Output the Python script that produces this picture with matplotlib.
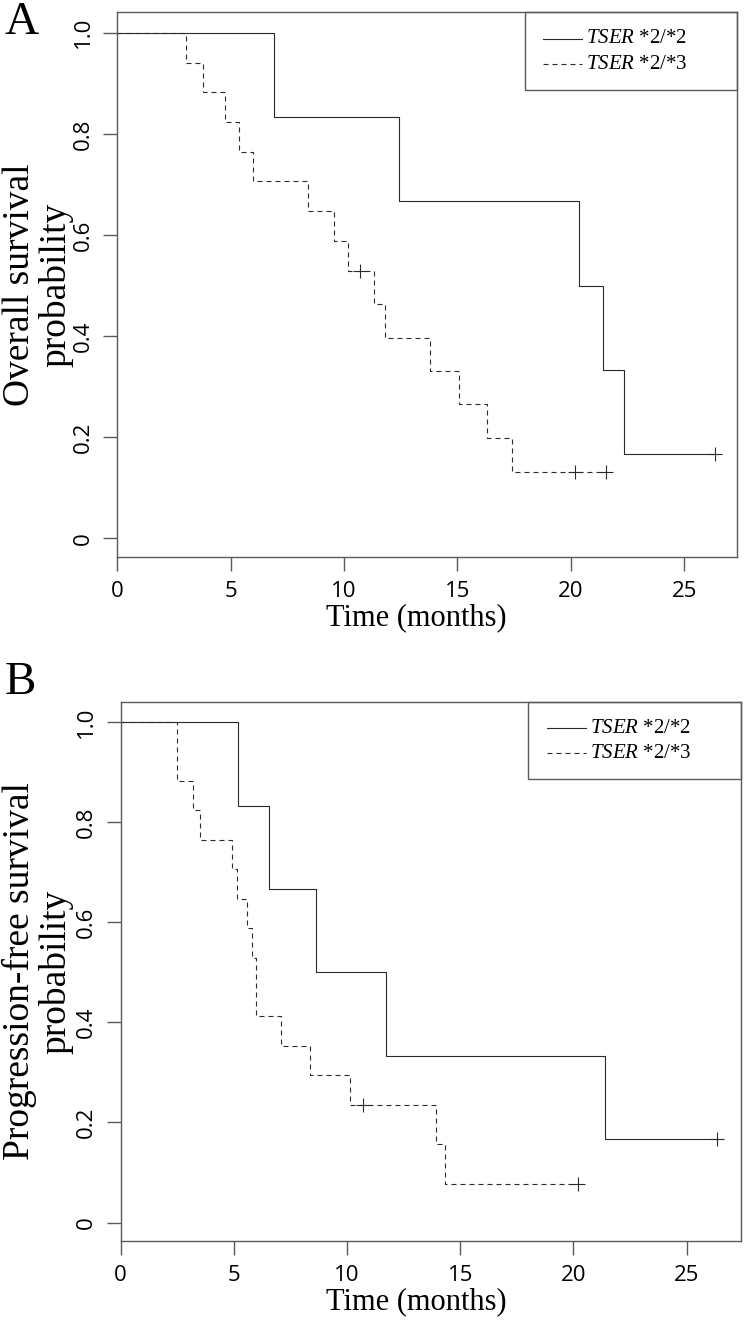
import matplotlib
matplotlib.use("Agg")
import matplotlib.pyplot as plt
from matplotlib.patches import Rectangle

plt.rcParams['mathtext.fontset'] = 'custom'
plt.rcParams['mathtext.it'] = 'Liberation Serif:italic'
plt.rcParams['mathtext.rm'] = 'Liberation Serif'

# Kaplan-Meier steps (time in months, survival probability)
# Panel A - overall survival
os_22_times = [0, 6.93, 12.44, 20.35, 21.40, 22.35]
os_22_surv = [1.0, 0.833, 0.667, 0.500, 0.333, 0.167]
os_22_end = 26.35
os_22_cens_t = [26.35]
os_22_cens_s = [0.167]

os_23_times = [0, 3.04, 3.78, 4.76, 5.36, 6.00, 8.40, 9.55, 10.16, 11.34,
               11.79, 13.77, 15.09, 16.32, 17.41]
os_23_surv = [1.0, 0.941, 0.882, 0.824, 0.765, 0.706, 0.647, 0.588, 0.529,
              0.463, 0.397, 0.331, 0.265, 0.199, 0.132]
os_23_end = 21.55
os_23_cens_t = [10.72, 20.17, 21.55]
os_23_cens_s = [0.529, 0.132, 0.132]

# Panel B - progression-free survival
pfs_22_times = [0, 5.18, 6.54, 8.64, 11.70, 21.40]
pfs_22_surv = [1.0, 0.833, 0.667, 0.500, 0.333, 0.167]
pfs_22_end = 26.32
pfs_22_cens_t = [26.32]
pfs_22_cens_s = [0.167]

pfs_23_times = [0, 2.47, 3.20, 3.52, 4.93, 5.12, 5.58, 5.78, 5.96, 7.07,
                8.35, 10.14, 13.91, 14.31]
pfs_23_surv = [1.0, 0.882, 0.824, 0.765, 0.706, 0.647, 0.588, 0.529, 0.412,
               0.353, 0.294, 0.235, 0.157, 0.078]
pfs_23_end = 20.19
pfs_23_cens_t = [10.69, 20.19]
pfs_23_cens_s = [0.235, 0.078]

group_labels = [r'$\mathit{TSER}$ *2/*2', r'$\mathit{TSER}$ *2/*3']
x_ticks = [0, 5, 10, 15, 20, 25]
y_ticks = [0, 0.2, 0.4, 0.6, 0.8, 1.0]
y_ticklabels = ['0', '0.2', '0.4', '0.6', '0.8', '1.0']

line_col = '#2a2a2a'
axis_col = '#5a5a5a'
dash = (0, (4.5, 3.6))
serif = 'Liberation Serif'
sans = 'Open Sans'


def km_panel(ax, curves, ylabel, xmax, xlab_x, ylab_x):
    for times, surv, end, ct, cs, ls in curves:
        ax.step(times + [end], surv + [surv[-1]], where='post',
                color=line_col, lw=0.8, ls=ls)
        ax.plot(ct, cs, ls='none', marker='+', ms=10, mew=0.8, color=line_col)

    ax.set_xlim(0, xmax)
    ax.set_ylim(-0.037, 1.041)
    ax.set_xticks(x_ticks)
    ax.set_xticklabels([str(t) for t in x_ticks], family=sans, fontsize=16)
    ax.set_yticks(y_ticks)
    ax.set_yticklabels(y_ticklabels, family=sans, fontsize=16,
                       rotation=90, va='center')
    ax.tick_params(direction='out', length=10, width=1.0, color=axis_col, pad=7)
    for s in ax.spines.values():
        s.set_color(axis_col)
        s.set_linewidth(1.0)

    ax.set_xlabel('Time (months)', family=serif, fontsize=22)
    ax.xaxis.set_label_coords(xlab_x, -0.085)
    ax.set_ylabel(ylabel, family=serif, fontsize=27, linespacing=1.05)
    ax.yaxis.set_label_coords(ylab_x, 0.5)

    # legend box in the top right corner, as in the original
    ax.add_patch(Rectangle((0.657, 0.857), 0.343, 0.143, transform=ax.transAxes,
                           fill=False, edgecolor=axis_col, lw=1.0, clip_on=False))
    rows = [0.951, 0.904]
    for y, lab, ls in zip(rows, group_labels, ['-', dash]):
        ax.plot([0.687, 0.750], [y, y], transform=ax.transAxes,
                color=line_col, lw=0.8, ls=ls)
        ax.text(0.756, y, lab, transform=ax.transAxes, family=serif,
                fontsize=15, va='center', ha='left')


fig = plt.figure(figsize=(7.45, 13.2), dpi=100)

ax_a = fig.add_axes([0.1574, 0.578, 0.8325, 0.4129])
km_panel(ax_a, [
    (os_22_times, os_22_surv, os_22_end, os_22_cens_t, os_22_cens_s, '-'),
    (os_23_times, os_23_surv, os_23_end, os_23_cens_t, os_23_cens_s, dash),
], 'Overall survival\nprobability', 27.35, 0.482, -0.07)

ax_b = fig.add_axes([0.162, 0.0598, 0.8326, 0.4086])
km_panel(ax_b, [
    (pfs_22_times, pfs_22_surv, pfs_22_end, pfs_22_cens_t, pfs_22_cens_s, '-'),
    (pfs_23_times, pfs_23_surv, pfs_23_end, pfs_23_cens_t, pfs_23_cens_s, dash),
], 'Progression-free survival\nprobability', 27.4, 0.476, -0.076)

fig.text(0.006, 0.999, 'A', family=serif, fontsize=34, va='top', ha='left')
fig.text(0.006, 0.499, 'B', family=serif, fontsize=34, va='top', ha='left')

fig.savefig('out.png', dpi=100)
